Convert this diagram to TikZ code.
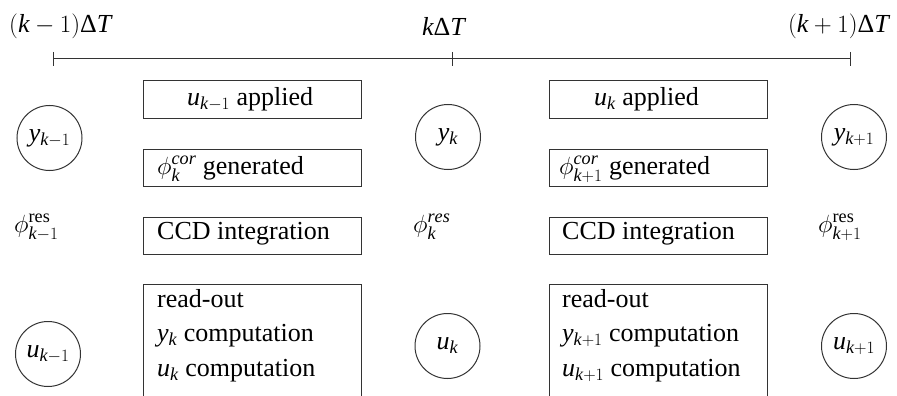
\documentclass[tikz,border=0pt]{standalone}
\usepackage{amsmath}
\usepackage{fontspec}
\setmainfont{Liberation Serif}[NFSSFamily=libserif]
\DeclareSymbolFont{tletters}{TU}{libserif}{m}{it}
\DeclareSymbolFont{tdigits}{TU}{libserif}{m}{n}
\DeclareMathSymbol{u}{\mathalpha}{tletters}{`u}
\DeclareMathSymbol{y}{\mathalpha}{tletters}{`y}
\DeclareMathSymbol{k}{\mathalpha}{tletters}{`k}
\DeclareMathSymbol{T}{\mathalpha}{tletters}{`T}
\DeclareMathSymbol{c}{\mathalpha}{tletters}{`c}
\DeclareMathSymbol{o}{\mathalpha}{tletters}{`o}
\DeclareMathSymbol{r}{\mathalpha}{tletters}{`r}
\DeclareMathSymbol{e}{\mathalpha}{tletters}{`e}
\DeclareMathSymbol{s}{\mathalpha}{tletters}{`s}
\DeclareMathSymbol{1}{\mathalpha}{tdigits}{`1}
\DeclareMathSymbol{(}{\mathopen}{tdigits}{`(}
\DeclareMathSymbol{)}{\mathclose}{tdigits}{`)}
\DeclareMathSymbol{+}{\mathbin}{tdigits}{`+}
\newcommand{\libserifup}{\fontfamily{libserif}\upshape}
\newcommand{\DT}{\mbox{\libserifup Δ}T}
\begin{document}
\begin{tikzpicture}[x=1pt,y=-1pt,
  every node/.style={font=\fontfamily{libserif}\fontsize{26}{31}\selectfont, inner sep=0pt},
  ln/.style={line width=1pt, draw=black!80},
  evbox/.style={ln, rectangle, minimum width=218pt, minimum height=37pt},
  sig/.style={ln, circle, minimum size=65pt},
  txt/.style={anchor=base west},
  txtr/.style={anchor=base east}]
\clip (0,0) rectangle (897,396);
% time labels
\node[txt] (t0) at (9,33) {$(k-1)\DT$};
\node[txt] (t1) at (422,36) {$k\DT$};
\node[txtr] (t2) at (889,33) {$(k+1)\DT$};
% timeline
\coordinate (L) at (53,59);
\coordinate (M) at (452,59);
\coordinate (R) at (850,59);
\coordinate (Lt) at (53,52); \coordinate (Lb) at (53,66);
\coordinate (Mt) at (452,52); \coordinate (Mb) at (452,66);
\coordinate (Rt) at (850,52); \coordinate (Rb) at (850,66);
\draw[ln] (L) -- (R);
\draw[ln] (Lt) -- (Lb);
\draw[ln] (Mt) -- (Mb);
\draw[ln] (Rt) -- (Rb);
% boxes left
\node[evbox] (b1) at (252,99.5) {};
\node[evbox] (b2) at (252,168) {};
\node[evbox] (b3) at (252,235.5) {};
\node[evbox, minimum height=140pt] (b4) at (252,354) {};
% boxes right
\node[evbox] (d1) at (658,99.5) {};
\node[evbox] (d2) at (658,168) {};
\node[evbox] (d3) at (658,235.5) {};
\node[evbox, minimum height=140pt] (d4) at (658,354) {};
% texts left
\node[txt] (a1) at (187,105) {$u_{k-1}$ applied};
\node[txt] (g1) at (157,174) {$\phi_k^{cor}$ generated};
\node[txt] (c1) at (157,239) {CCD integration};
\node[txt] (r1) at (157,307) {read-out};
\node[txt] (r1b) at (157,341) {$y_k$ computation};
\node[txt] (r1c) at (157,376) {$u_k$ computation};
% texts right
\node[txt] (a2) at (594,105) {$u_k$ applied};
\node[txt] (g2) at (559,174) {$\phi_{k+1}^{cor}$ generated};
\node[txt] (c2) at (562,239) {CCD integration};
\node[txt] (r2) at (562,307) {read-out};
\node[txt] (r2b) at (562,341) {$y_{k+1}$ computation};
\node[txt] (r2c) at (562,376) {$u_{k+1}$ computation};
% circles
\node[sig] (y0) at (49.5,138) {$y_{k-1}$};
\node[sig] (y1) at (448,137) {$y_k$};
\node[sig] (y2) at (854,137) {$y_{k+1}$};
\node[sig] (u0) at (48,354) {$u_{k-1}$};
\node[sig] (u1) at (447.5,346) {$u_k$};
\node[sig] (u2) at (854,346) {$u_{k+1}$};
% residual phases
\node[txt] (p0) at (14,232) {$\phi^{\text{res}}_{k-1}$};
\node[txt] (p1) at (413,232) {$\phi_k^{res}$};
\node[txt] (p2) at (818,232) {$\phi^{\text{res}}_{k+1}$};
\end{tikzpicture}
\end{document}
